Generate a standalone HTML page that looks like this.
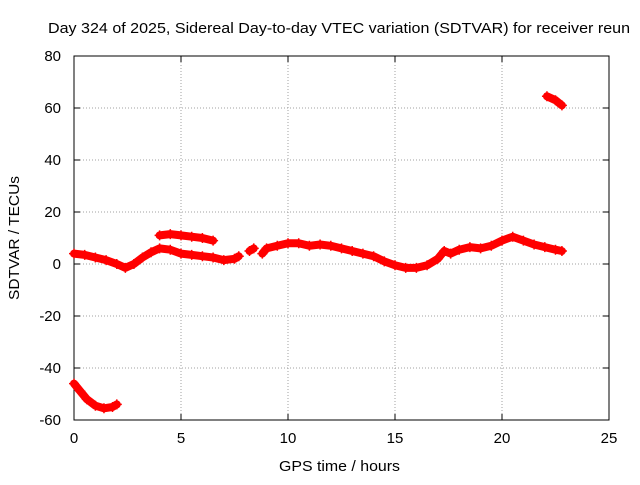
<!DOCTYPE html>
<html><head><meta charset="utf-8"><style>
body{margin:0;background:#fff;}
svg text{font-family:"Liberation Sans",sans-serif;fill:#000;}
</style></head><body>
<svg width="640" height="480" xmlns="http://www.w3.org/2000/svg">
<rect width="640" height="480" fill="#fff"/>
<text x="48" y="33" font-size="15" textLength="582" lengthAdjust="spacingAndGlyphs">Day 324 of 2025, Sidereal Day-to-day VTEC variation (SDTVAR) for receiver reun</text>
<g id="grid"></g>
<g id="axes"></g>
<g id="series"></g>
<text x="279" y="471" font-size="15" textLength="121" lengthAdjust="spacingAndGlyphs">GPS time / hours</text>
<text transform="translate(19,300) rotate(-90)" font-size="15" textLength="124" lengthAdjust="spacingAndGlyphs">SDTVAR / TECUs</text>
</svg>
<script>
const xTicks=[0,5,10,15,20,25];
const yTicks=[-60,-40,-20,0,20,40,60,80];
const segA=[[0,-46],[0.3,-49],[0.6,-52],[1,-54.5],[1.4,-55.5],[1.8,-55],[2.0,-54]];
const segB=[[0,4],[0.5,3.5],[1,2.5],[1.5,1.5],[2,0],[2.4,-1.5],[2.8,0],[3.2,2.5],[3.6,4.5],[4,6],[4.5,5.5],[5,4],[5.5,3.5],[6,3],[6.5,2.5],[7,1.5],[7.5,2],[7.7,3]];
const segC=[[4,11],[4.5,11.5],[5,11],[5.5,10.5],[6,10],[6.5,9]];
const segD=[[8.2,5],[8.4,6]];
const segE=[[8.8,4],[9,6],[9.5,7],[10,8],[10.5,8],[11,7],[11.5,7.5],[12,7],[12.5,6],[13,5],[13.5,4],[14,3],[14.5,1],[15,-0.5],[15.5,-1.5],[16,-1.5],[16.5,-0.5],[17,2],[17.3,5],[17.6,4],[18,5.5],[18.5,6.5],[19,6],[19.5,7],[20,9],[20.5,10.5],[21,9],[21.5,7.5],[22,6.5],[22.5,5.5],[22.8,5]];
const segF=[[22.1,64.5],[22.5,63],[22.8,61]];
const segments=[segA,segB,segC,segD,segE,segF];
const X0=74,X1=609,Y0=420,Y1=56;
const sx=v=>X0+(v-0)/25*(X1-X0);
const sy=v=>Y0-(v+60)/140*(Y0-Y1);
const NS="http://www.w3.org/2000/svg";
function mk(t,a,p){const e=document.createElementNS(NS,t);for(const k in a)e.setAttribute(k,a[k]);p.appendChild(e);return e;}
const grid=document.getElementById('grid'),axes=document.getElementById('axes'),ser=document.getElementById('series');
xTicks.forEach(t=>{const x=sx(t);
 if(t>0&&t<25){const g=mk('line',{x1:x,x2:x,y1:Y1,y2:Y0,stroke:'#a0a0a0','stroke-dasharray':'1,2'},grid);}
 mk('line',{x1:x,x2:x,y1:Y0,y2:Y0-6,stroke:'#000'},axes);mk('line',{x1:x,x2:x,y1:Y1,y2:Y1+6,stroke:'#000'},axes);
 const l=mk('text',{x:x,y:Y0+23,'font-size':15,'text-anchor':'middle'},axes);l.textContent=t;
 });
yTicks.forEach(t=>{const y=sy(t);
 if(t>-60&&t<80){const g=mk('line',{x1:X0,x2:X1,y1:y,y2:y,stroke:'#a0a0a0','stroke-dasharray':'1,2'},grid);}
 mk('line',{x1:X0,x2:X0+6,y1:y,y2:y,stroke:'#000'},axes);mk('line',{x1:X1,x2:X1-6,y1:y,y2:y,stroke:'#000'},axes);
 const l=mk('text',{x:X0-13,y:y+5,'font-size':15,'text-anchor':'end'},axes);l.textContent=t;
 });
const fr=mk('rect',{x:X0,y:Y1,width:X1-X0,height:Y0-Y1,fill:'none',stroke:'#000'},axes);

segments.forEach(s=>{
 const pl=mk('polyline',{points:s.map(p=>sx(p[0])+','+sy(p[1])).join(' '),fill:'none',stroke:'#f00','stroke-width':8,'stroke-linejoin':'round','stroke-linecap':'round'},ser);
 
 s.forEach(p=>{const x=sx(p[0]),y=sy(p[1]);
  const m=mk('path',{d:`M${x-5},${y}h10M${x},${y-5}v10`,stroke:'#f00','stroke-width':1.5},ser);
  });
});
</script>
</body></html>
